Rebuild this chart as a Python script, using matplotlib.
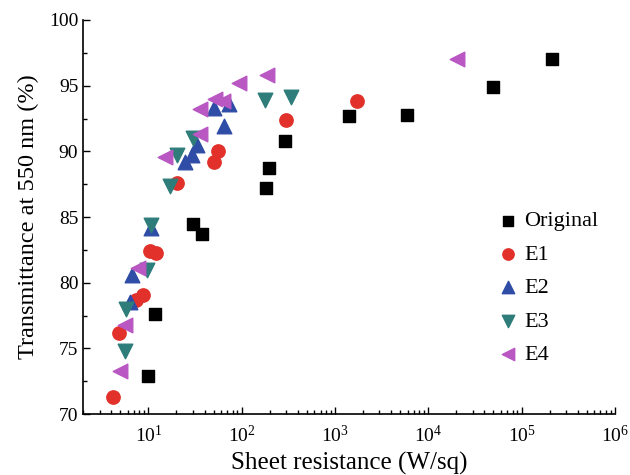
import matplotlib
matplotlib.use("Agg")
import matplotlib.pyplot as plt
from matplotlib.ticker import MultipleLocator, LogLocator, NullFormatter

plt.rcParams['font.family'] = ['Liberation Serif', 'DejaVu Serif']
plt.rcParams['mathtext.fontset'] = 'custom'
plt.rcParams['mathtext.rm'] = 'Liberation Serif'
plt.rcParams['mathtext.it'] = 'Liberation Serif:italic'

# ====== DATA ======
orig_x = [9.8, 11.9, 30.3, 37.8, 183, 198, 293, 1420, 5930, 49400, 211000]
orig_y = [72.9, 77.6, 84.5, 83.7, 87.2, 88.7, 90.8, 92.7, 92.8, 94.9, 97.0]

e1_x = [4.2, 4.9, 7.3, 8.8, 10.5, 12.2, 20.3, 50, 55.2, 298, 1713]
e1_y = [71.3, 76.2, 78.7, 79.1, 82.4, 82.3, 87.6, 89.2, 90.0, 92.4, 93.8]

e2_x = [6.4, 6.7, 10.8, 24.9, 29.4, 33.2, 65, 50, 73.6]
e2_y = [78.5, 80.6, 84.2, 89.2, 89.7, 90.5, 91.9, 93.3, 93.6]

e3_x = [5.6, 5.8, 9.7, 10.8, 16.9, 20.3, 30, 176, 340]
e3_y = [74.8, 78.0, 81.0, 84.4, 87.4, 89.7, 91.0, 93.9, 94.1]

e4_x = [5.0, 5.6, 7.7, 15.2, 35.4, 36, 52, 63, 92.7, 187, 20200]
e4_y = [73.3, 76.8, 81.1, 89.6, 91.3, 93.2, 94.0, 93.8, 95.2, 95.8, 97.0]

# ====== PLOT ======
fig = plt.figure(figsize=(6.3, 4.75), dpi=100)
ax = fig.add_axes([0.132, 0.128, 0.844, 0.83])

ax.scatter(orig_x, orig_y, marker='s', s=72, color='black', label='Original', zorder=3)
ax.scatter(e1_x, e1_y, marker='o', s=92, color='#E1312A', label='E1', zorder=3)
ax.scatter(e2_x, e2_y, marker='^', s=110, color='#2F4DA6', label='E2', zorder=3)
ax.scatter(e3_x, e3_y, marker='v', s=110, color='#2E7D7B', label='E3', zorder=3)
ax.scatter(e4_x, e4_y, marker='<', s=110, color='#B957C3', label='E4', zorder=3)

ax.set_xscale('log')
ax.set_xlim(2, 1e6)
ax.set_ylim(70, 100)
ax.yaxis.set_major_locator(MultipleLocator(5))
ax.yaxis.set_minor_locator(MultipleLocator(2.5))
ax.xaxis.set_major_locator(LogLocator(base=10, numticks=10))
ax.xaxis.set_minor_locator(LogLocator(base=10, subs=range(2, 10), numticks=20))
ax.xaxis.set_minor_formatter(NullFormatter())

for side in ['top', 'right']:
    ax.spines[side].set_visible(False)
for side in ['left', 'bottom']:
    ax.spines[side].set_linewidth(1.2)

ax.tick_params(which='both', direction='in', labelsize=14, width=1.0)
ax.tick_params(which='major', length=5)
ax.tick_params(which='minor', length=3)
ax.tick_params(axis='x', pad=8)

ax.set_xlabel('Sheet resistance (W/sq)', fontsize=18)
ax.set_ylabel('Transmittance at 550 nm (%)', fontsize=17.5, labelpad=7)

ax.legend(loc='center right', bbox_to_anchor=(0.985, 0.32), frameon=False,
          fontsize=16, handlelength=1.0, handletextpad=0.2,
          labelspacing=0.58, borderaxespad=0.0, markerscale=0.85)

fig.savefig('out.png', dpi=100)
